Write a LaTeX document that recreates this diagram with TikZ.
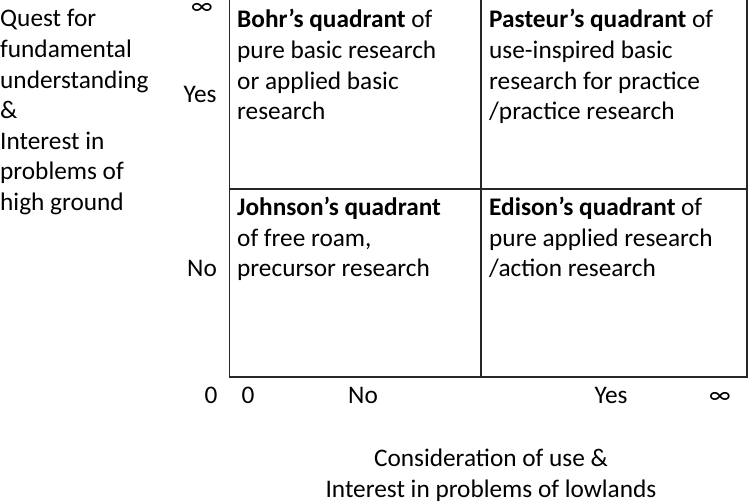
\documentclass[tikz,border=0pt]{standalone}
\usepackage{fontspec}
\setmainfont{Carlito}
\begin{document}
\begin{tikzpicture}[x=1pt,y=-1pt,
  every node/.style={inner sep=0pt, font=\fontsize{25.3}{30.6}\selectfont},
  gridline/.style={draw=black!85, line width=1.3pt},
  block/.style={anchor=base west, align=left},
  tick/.style={anchor=base}]
\useasboundingbox (0,0) rectangle (749,502);
\coordinate (tl) at (229.5,0);
\coordinate (bl) at (229.5,377);
\coordinate (br) at (747,377);
\coordinate (tr) at (747,0);
\coordinate (mt) at (481,0);
\coordinate (mb) at (481,377);
\coordinate (ml) at (229.5,189);
\coordinate (mr) at (747,189);
\draw[gridline] (tl) -- (bl) -- (br) -- (tr);
\draw[gridline] (mt) -- (mb);
\draw[gridline] (ml) -- (mr);

% base anchor of a multi-line node = baseline of its last line
\node[block] (ylab) at (0,210.6) {Quest for\\fundamental\\understanding\\\&\\Interest in\\problems of\\high ground};

\node[block] (bohr) at (237,119.8) {\textbf{Bohr’s quadrant} of\\pure basic research\\or applied basic\\research};
\node[block] (pasteur) at (489,119.8) {\textbf{Pasteur’s quadrant} of\\use-inspired basic\\research for practice\\/practice research};
\node[block] (johnson) at (237,277) {\textbf{Johnson’s quadrant}\\of free roam,\\precursor research};
\node[block] (edison) at (489,277) {\textbf{Edison’s quadrant} of\\pure applied research\\/action research};

\node[tick] (yinf) at (202,15) {∞};
\node[tick] (yyes) at (200,103) {Yes};
\node[tick] (yno) at (202,277) {No};
\node[tick] (yzero) at (211,403) {0};
\node[tick] (xzero) at (248,403) {0};
\node[tick] (xno) at (363,403) {No};
\node[tick] (xyes) at (611,403) {Yes};
\node[tick] (xinf) at (720,403) {∞};

\node[anchor=base, align=center] (xlab) at (491,497) {Consideration of use \&\\Interest in problems of lowlands};
\end{tikzpicture}
\end{document}
